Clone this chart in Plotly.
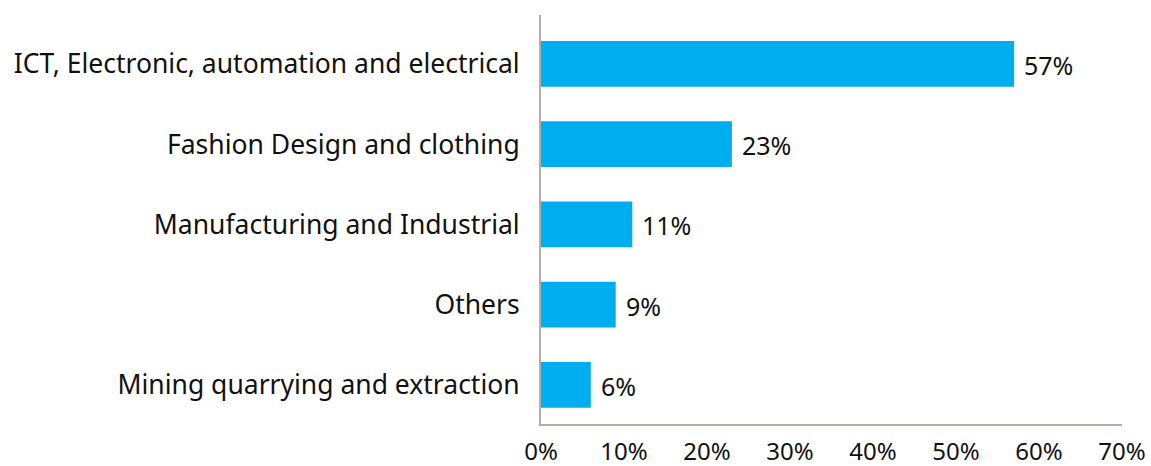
import plotly.graph_objects as go

# Sectors listed bottom-to-top as drawn on the y axis
sectors = [
    "Mining quarrying and extraction",
    "Others",
    "Manufacturing and Industrial",
    "Fashion Design and clothing",
    "ICT, Electronic, automation and electrical",
]
shares = [6, 9, 11, 23, 57]
x_ticks = [0, 10, 20, 30, 40, 50, 60, 70]
x_tick_labels = ["0%", "10%", "20%", "30%", "40%", "50%", "60%", "70%"]

FONT = "Noto Sans, Open Sans, sans-serif"
BAR_COLOR = "#00AEEF"
AXIS_COLOR = "#B3AFA8"
TEXT_COLOR = "#111111"

fig = go.Figure(
    go.Bar(
        y=sectors,
        x=shares,
        orientation="h",
        marker=dict(color=BAR_COLOR, line=dict(width=0)),
        width=0.57,
        hoverinfo="skip",
    )
)

# Value labels just past the end of each bar
for s, v in zip(sectors, shares):
    fig.add_annotation(
        x=v, y=s, text=f"{v}%", showarrow=False,
        xanchor="left", xshift=8, yshift=-1,
        font=dict(family=FONT, size=25, color=TEXT_COLOR),
    )

fig.update_layout(
    width=1151, height=466,
    margin=dict(l=541, r=29, t=15, b=42),
    paper_bgcolor="white", plot_bgcolor="white",
    showlegend=False,
    font=dict(family=FONT, size=25, color=TEXT_COLOR),
    xaxis=dict(
        range=[0, 70], automargin=False,
        tickvals=x_ticks, ticktext=x_tick_labels,
        showgrid=False, zeroline=False,
        showline=True, linecolor=AXIS_COLOR, linewidth=2,
        ticks="", ticklabelstandoff=5,
        tickfont=dict(family=FONT, size=24, color=TEXT_COLOR),
    ),
    yaxis=dict(
        type="category", automargin=False,
        categoryorder="array", categoryarray=sectors,
        range=[-0.486, 4.61],
        showgrid=False, zeroline=False,
        showline=True, linecolor=AXIS_COLOR, linewidth=2,
        ticks="", ticklabelstandoff=14,
        tickfont=dict(family=FONT, size=26.5, color=TEXT_COLOR),
    ),
)

fig.write_html("out.html")
